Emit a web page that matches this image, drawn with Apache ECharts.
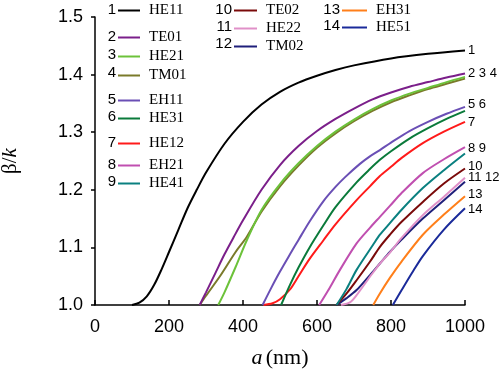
<!DOCTYPE html>
<html>
<head>
<meta charset="utf-8">
<script src="https://cdn.jsdelivr.net/npm/echarts@6/dist/echarts.min.js"></script>
<style>html,body{margin:0;padding:0;background:#fff}#c{width:500px;height:380px}</style>
</head>
<body>
<div id="c"></div>
<script>
// ---- data ----
const modeNames = ['HE11','TE01','HE21','TM01','EH11','HE31','HE12','EH21','HE41','TE02','HE22','TM02','EH31','HE51'];
const modeNums = ['1','2','3','4','5','6','7','8','9','10','11','12','13','14'];
const endLabels = ['1','2 3 4','','','5 6','','7','8 9','','10','11 12','','13','14'];

const he11 = [[100,1.000],[120,1.004],[140,1.015],[160,1.035],[180,1.062],[200,1.092],[225,1.130],[250,1.168],[275,1.200],[300,1.230],[350,1.280],[400,1.318],[450,1.348],[500,1.370],[550,1.386],[600,1.398],[650,1.408],[700,1.416],[800,1.428],[900,1.436],[1000,1.442]];
const te01 = [[283,1.000],[300,1.022],[325,1.055],[350,1.088],[375,1.118],[400,1.147],[450,1.200],[500,1.243],[550,1.276],[600,1.302],[650,1.323],[700,1.341],[750,1.357],[800,1.369],[850,1.379],[900,1.387],[950,1.395],[1000,1.402]];
const he21 = [[333,1.000],[350,1.022],[380,1.066],[410,1.112],[450,1.165],[500,1.210],[550,1.246],[600,1.276],[650,1.301],[700,1.322],[750,1.340],[800,1.355],[850,1.367],[900,1.377],[950,1.387],[1000,1.396]];
const tm01 = [[283,1.000],[300,1.016],[340,1.052],[380,1.092],[410,1.118],[450,1.162],[500,1.206],[550,1.242],[600,1.273],[650,1.298],[700,1.319],[750,1.337],[800,1.352],[850,1.364],[900,1.375],[950,1.384],[1000,1.393]];
const eh11 = [[453,1.000],[475,1.028],[500,1.058],[527,1.088],[550,1.113],[580,1.145],[617,1.180],[650,1.205],[676,1.222],[716,1.245],[743,1.258],[770,1.269],[800,1.282],[850,1.302],[900,1.318],[950,1.332],[1000,1.344]];
const he31 = [[503,1.000],[527,1.035],[550,1.065],[580,1.100],[617,1.138],[650,1.170],[707,1.213],[743,1.236],[770,1.252],[800,1.267],[850,1.289],[900,1.307],[950,1.323],[1000,1.337]];
const he12 = [[455,1.000],[480,1.003],[500,1.010],[527,1.027],[550,1.050],[580,1.080],[617,1.112],[650,1.140],[707,1.182],[743,1.206],[770,1.224],[800,1.240],[828,1.255],[886,1.281],[943,1.301],[1000,1.318]];
const eh21 = [[606,1.000],[630,1.025],[662,1.061],[707,1.107],[743,1.134],[770,1.153],[797,1.172],[828,1.194],[886,1.229],[943,1.253],[1000,1.274]];
const he41 = [[653,1.000],[680,1.028],[707,1.061],[752,1.105],[770,1.122],[797,1.142],[828,1.165],[886,1.203],[943,1.234],[1000,1.263]];
const te02 = [[653,1.000],[680,1.020],[707,1.043],[743,1.075],[770,1.101],[797,1.122],[828,1.144],[886,1.179],[943,1.211],[1000,1.237]];
const he22 = [[665,1.000],[690,1.005],[707,1.017],[743,1.049],[770,1.072],[797,1.091],[828,1.116],[886,1.156],[943,1.188],[1000,1.221]];
const tm02 = [[653,1.000],[680,1.012],[707,1.026],[743,1.052],[770,1.072],[797,1.092],[828,1.113],[886,1.150],[943,1.182],[1000,1.214]];
const eh31 = [[752,1.000],[770,1.020],[797,1.047],[828,1.075],[886,1.122],[943,1.157],[1000,1.189]];
const he51 = [[805,1.000],[828,1.025],[857,1.056],[886,1.085],[943,1.131],[1000,1.168]];

const seriesData = [he11,te01,he21,tm01,eh11,he31,he12,eh21,he41,te02,he22,tm02,eh31,he51];
const colors = ['#000000','#7b1f8a','#6cc23a','#7a7a2a','#6a4fb5','#0a7a3a','#ff1a1a','#c04fb0','#0a8080','#7a0a0a','#e090c8','#1f1f7a','#ff7f1a','#1a2a9a'];
const endLabelDy = [0,0,0,0,-2,0,1,1,0,-2,0,0,-2,1];

// legend layout groups: [indices, left, top, gap, itemWidth]
const legendGroups = [
  [[0],118,3,4,22],
  [[1,2,3],118,30,4,22],
  [[4,5],118,93,3,22],
  [[6],118,136,4,22],
  [[7,8],118,158,3,22],
  [[9,10,11],234,3,3,23],
  [[12,13],342,3,2,25]
];

const chart = echarts.init(document.getElementById('c'), null, {renderer:'canvas'});

const series = seriesData.map((d,i)=>({
  name: modeNames[i],
  type: 'line',
  data: d,
  symbol: 'none',
  smooth: 0.3,
  lineStyle: {color: colors[i], width: 2},
  itemStyle: {color: colors[i]},
  z: 20 - i,
  endLabel: {
    show: endLabels[i] !== '',
    formatter: endLabels[i],
    color: '#000',
    fontFamily: '"Liberation Sans", Arial, sans-serif',
    fontSize: 13,
    distance: 3,
    offset: [0, endLabelDy[i]]
  }
}));

const legends = legendGroups.map(g=>({
  orient: 'vertical',
  left: g[1], top: g[2],
  itemGap: g[3],
  itemWidth: g[4], itemHeight: 2,
  icon: 'rect',
  padding: 0,
  data: g[0].map(i=>modeNames[i]),
  textStyle: {fontFamily: '"Liberation Serif", "Times New Roman", serif', fontSize: 15, color: '#000', lineHeight: 14, padding:[0,0,0,4]},
  selectedMode: false
}));

const numTexts = [];
legendGroups.forEach(g=>{
  g[0].forEach((i,k)=>{
    const rowH = 14 + g[3];
    numTexts.push({
      type: 'text',
      right: 500 - (g[1] - 2),
      top: g[2] + k*rowH - 1,
      style: {text: modeNums[i], fill:'#000', font: '15px "Liberation Sans", Arial, sans-serif', textAlign:'right'}
    });
  });
});

chart.setOption({
  animation: false,
  backgroundColor: '#fff',
  grid: {left: 95, right: 35, top: 17, bottom: 75, containLabel: false, outerBoundsMode: 'none'},
  legend: legends,
  graphic: numTexts,
  xAxis: {
    type: 'value', min: 0, max: 1000, interval: 200,
    name: '{i|a} {n|(nm)}',
    nameLocation: 'middle', nameGap: 42,
    nameTextStyle: {rich: {
      i: {fontFamily:'"Liberation Serif", serif', fontStyle:'italic', fontSize: 22, color:'#000'},
      n: {fontFamily:'"Liberation Serif", serif', fontSize: 22, color:'#000'}
    }},
    axisLine: {lineStyle: {color:'#000', width: 1.5}},
    axisTick: {inside: true, length: 5, lineStyle:{color:'#000', width:1.5}},
    axisLabel: {color:'#000', fontFamily:'"Liberation Sans", Arial, sans-serif', fontSize: 18, margin: 13,
      formatter: v => String(v)},
    splitLine: {show:false}
  },
  yAxis: {
    type: 'value', min: 1.0, max: 1.5, interval: 0.1,
    name: '{b|β/}{i|k}',
    nameLocation: 'middle', nameGap: 74, nameRotate: 90,
    nameTextStyle: {rich: {
      b: {fontFamily:'"Liberation Serif", serif', fontSize: 21, color:'#000'},
      i: {fontFamily:'"Liberation Serif", serif', fontStyle:'italic', fontSize: 21, color:'#000'}
    }},
    axisLine: {show: true, lineStyle: {color:'#000', width: 1.5}},
    axisTick: {show: true, inside: false, length: 4, lineStyle:{color:'#000', width:1.5}},
    axisLabel: {color:'#000', fontFamily:'"Liberation Sans", Arial, sans-serif', fontSize: 18, margin: 12,
      formatter: v => v.toFixed(1)},
    splitLine: {show:false}
  },
  series: series
});
</script>
</body>
</html>
